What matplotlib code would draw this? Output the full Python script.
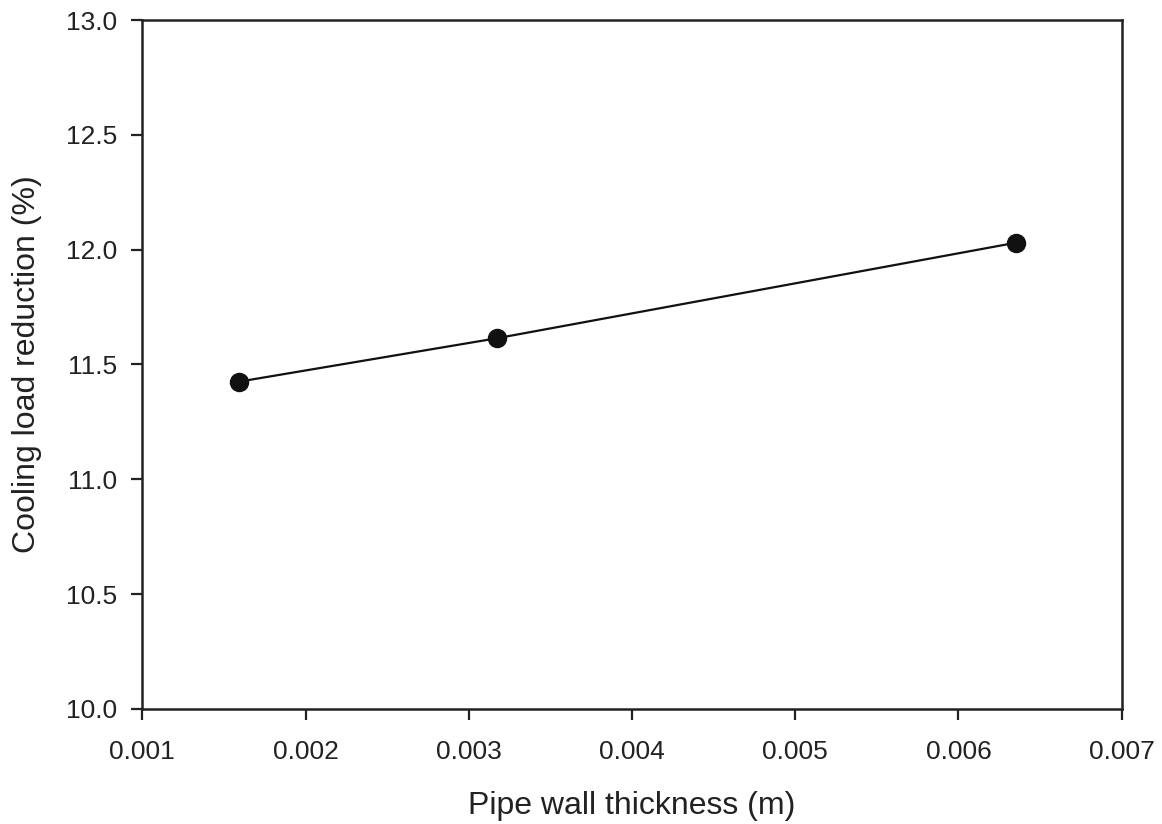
import matplotlib
matplotlib.use("Agg")
import matplotlib.pyplot as plt

plt.rcParams['font.family'] = ['Liberation Sans', 'DejaVu Sans']

# pipe wall thickness (m) vs cooling load reduction (%)
thickness = [0.00159, 0.00317, 0.00635]
reduction = [11.425, 11.614, 12.030]

fig = plt.figure(figsize=(11.62, 8.24), dpi=100)
ax = fig.add_axes([0.1225, 0.1396, 0.8428, 0.8361])

ax.plot(thickness, reduction, color='#111111', lw=1.6, marker='o',
        markersize=13, markerfacecolor='#111111', markeredgecolor='#111111')

ax.set_xlim(0.001, 0.007)
ax.set_ylim(10.0, 13.0)
ax.set_xticks([0.001, 0.002, 0.003, 0.004, 0.005, 0.006, 0.007])
ax.set_xticklabels(['0.001', '0.002', '0.003', '0.004', '0.005', '0.006', '0.007'])
ax.set_yticks([10.0, 10.5, 11.0, 11.5, 12.0, 12.5, 13.0])
ax.set_yticklabels(['10.0', '10.5', '11.0', '11.5', '12.0', '12.5', '13.0'])

ax.tick_params(direction='out', length=8, width=1.6, labelsize=19,
               colors='#222222')
ax.tick_params(axis='x', pad=14)
ax.tick_params(axis='y', pad=10)
for s in ax.spines.values():
    s.set_linewidth(1.8)
    s.set_color('#222222')

ax.set_xlabel('Pipe wall thickness (m)', fontsize=23, labelpad=20, color='#222222')
ax.set_ylabel('Cooling load reduction (%)', fontsize=23, labelpad=17, color='#222222')

fig.savefig('out.png', dpi=100)
